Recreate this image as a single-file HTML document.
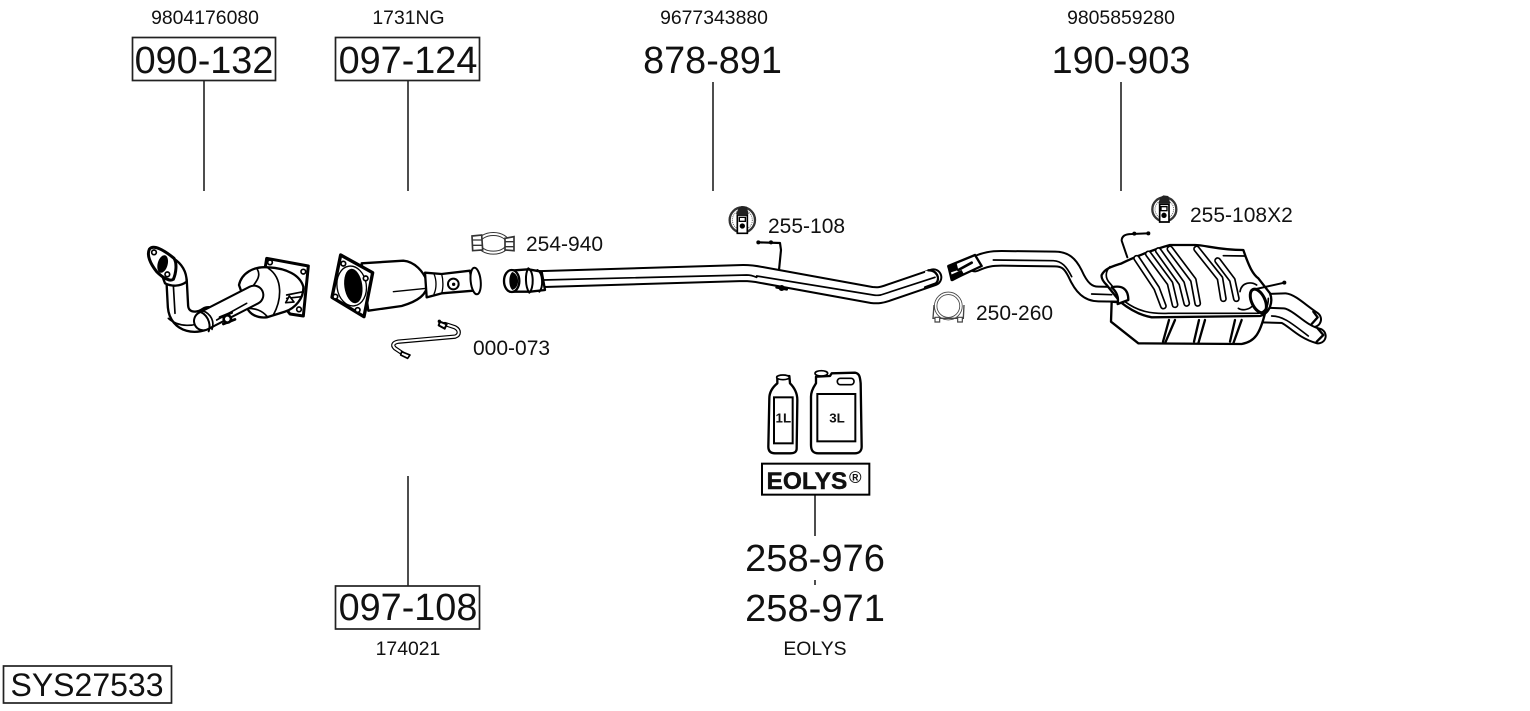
<!DOCTYPE html>
<html><head><meta charset="utf-8"><style>
html,body{margin:0;padding:0;background:#fff;overflow:hidden}
svg{display:block}
text{font-family:"Liberation Sans",sans-serif;fill:#111}
.b{font-size:37.8px;text-anchor:middle}
.c{font-size:38.1px;text-anchor:middle}
.s{font-size:19.4px;text-anchor:middle}
.m{font-size:21px}
.k{fill:none;stroke:#000;stroke-linejoin:round;stroke-linecap:round}
.w{fill:#fff;stroke:#000;stroke-linejoin:round;stroke-linecap:round}
.f{fill:none;stroke:#fff;stroke-linejoin:round;stroke-linecap:round}
.r{fill:#fff;stroke:#222;stroke-width:1.7}
.l{stroke:#222;stroke-width:1.6}
</style></head><body>
<svg width="1530" height="711" viewBox="0 0 1530 711" xmlns="http://www.w3.org/2000/svg">
<rect width="1530" height="711" fill="#fff"/>

<!-- leader lines -->
<line class="l" x1="204" y1="80" x2="204" y2="191"/>
<line class="l" x1="408" y1="80" x2="408" y2="191"/>
<line class="l" x1="713" y1="82" x2="713" y2="191"/>
<line class="l" x1="1121" y1="82" x2="1121" y2="191"/>
<line class="l" x1="408" y1="476" x2="408" y2="586"/>
<line class="l" x1="815" y1="494" x2="815" y2="536"/>
<line class="l" x1="815" y1="580" x2="815" y2="585"/>

<!-- boxes -->
<rect class="r" x="132.5" y="37.5" width="143" height="43"/>
<rect class="r" x="335.5" y="37.5" width="144" height="43"/>
<rect class="r" x="335.5" y="586" width="144" height="43"/>
<rect class="r" x="3.5" y="666" width="168" height="37"/>

<!-- labels -->
<text class="s" x="205" y="24">9804176080</text>
<text class="s" x="408.5" y="24">1731NG</text>
<text class="s" x="714" y="24">9677343880</text>
<text class="s" x="1121" y="24">9805859280</text>
<text class="b" x="204" y="73">090-132</text>
<text class="b" x="408" y="73">097-124</text>
<text class="b" x="712.5" y="73">878-891</text>
<text class="b" x="1121" y="73">190-903</text>
<text class="b" x="408" y="620">097-108</text>
<text class="c" x="815" y="571">258-976</text>
<text class="c" x="815" y="621">258-971</text>
<text class="s" x="408" y="655">174021</text>
<text class="s" x="815" y="655">EOLYS</text>
<text x="87" y="696" text-anchor="middle" style="font-size:32px">SYS27533</text>
<text class="m" x="526" y="251">254-940</text>
<text class="m" x="768" y="233">255-108</text>
<text class="m" x="1190" y="222">255-108X2</text>
<text class="m" x="976" y="320">250-260</text>
<text class="m" x="473" y="355">000-073</text>

<!-- PART 1 : zoom coords 140,240 -->
<g transform="translate(140 240) scale(.33333)">
  <path class="w" stroke-width="9" d="M380 55 L505 78 L490 228 L450 222 L370 120Z"/>
  <circle cx="390" cy="67" r="7" class="w" stroke-width="5"/>
  <circle cx="490" cy="95" r="7" class="w" stroke-width="5"/>
  <circle cx="477" cy="208" r="7" class="w" stroke-width="5"/>
  <path class="w" stroke-width="7" d="M297 135 C305 100 340 78 385 82 C440 85 480 105 490 140 C492 175 465 205 435 215 L380 232 C350 235 330 222 322 205Z"/>
  <path class="k" stroke-width="5" d="M352 88 C368 115 335 135 330 155 M385 85 C430 115 425 180 400 225 M440 165 L490 155 M440 175 L485 170 M322 205 C345 205 365 210 382 230"/>
  <path d="M437 188 L448 168 L462 186Z" class="w" stroke-width="5"/>
  <!-- vertical + lower bend -->
  <path class="k" stroke-width="68" stroke-linecap="butt" d="M110 125 L114 200 C118 248 170 256 205 232"/>
  <path class="f" stroke-width="54" stroke-linecap="butt" d="M110 125 L114 200 C118 248 170 256 205 232"/>
  <path class="k" stroke-width="5" d="M100 135 L105 220 M85 235 C115 262 165 262 195 240"/>
  <!-- pipe to cat -->
  <path class="k" stroke-width="62" stroke-linecap="butt" d="M190 243 L342 165"/>
  <path class="f" stroke-width="50" stroke-linecap="butt" d="M190 243 L342 165"/>
  <path class="k" stroke-width="5" d="M230 240 L320 190"/>
  <!-- clamp arcs only -->
  <path class="k" stroke-width="6" d="M174 214 C200 218 215 250 206 274"/>
  <path class="k" stroke-width="5" d="M188 212 C214 222 224 245 216 268"/>
  <!-- upper bend -->
  <path class="w" stroke-width="7" d="M100 55 C125 70 140 95 140 125 C120 140 95 140 75 130 L60 90Z"/>
  <!-- flange -->
  <path class="w" stroke-width="9" d="M28 28 C40 12 72 30 102 55 C112 70 108 100 100 118 C90 125 70 115 50 95 C30 70 20 45 28 28Z"/>
  <ellipse cx="68" cy="72" rx="15" ry="27" fill="#000" transform="rotate(15 68 72)"/>
  <circle cx="42" cy="37" r="7" class="w" stroke-width="5"/>
  <circle cx="82" cy="103" r="7" class="w" stroke-width="5"/>
  <!-- bolt -->
  <path class="k" stroke-width="8" d="M240 232 L275 218 M250 252 L285 238"/>
  <circle cx="262" cy="237" r="11" class="w" stroke-width="8"/>
</g>

<!-- PART 2 : zoom coords 130,220 -->
<g transform="translate(130 220) scale(.33333)">
  <path class="w" stroke-width="7" d="M695 130 L820 122 C855 125 880 155 892 185 C895 225 860 245 815 258 L715 272Z"/>
  <path class="k" stroke-width="4" d="M790 215 L890 205"/>
  <path class="w" stroke-width="7" d="M885 158 L935 162 L1020 152 L1030 212 L935 220 L890 232Z"/>
  <path class="k" stroke-width="4" d="M912 162 C920 180 920 205 912 222 M935 162 C940 180 940 205 935 220"/>
  <ellipse cx="1037" cy="183" rx="15" ry="40" class="w" stroke-width="6" transform="rotate(-6 1037 183)"/>
  <circle cx="970" cy="192" r="16" class="w" stroke-width="6"/>
  <circle cx="971" cy="193" r="5" fill="#000"/>
  <path class="w" stroke-width="10" d="M632 105 L728 158 L702 290 L606 232Z"/>
  <ellipse cx="665" cy="198" rx="44" ry="60" fill="#fff" stroke="#000" stroke-width="4" transform="rotate(-8 665 198)"/>
  <ellipse cx="670" cy="198" rx="27" ry="52" fill="#000" transform="rotate(-8 670 198)"/>
  <circle cx="640" cy="131" r="7" class="w" stroke-width="5"/>
  <circle cx="707" cy="175" r="7" class="w" stroke-width="5"/>
  <circle cx="616" cy="230" r="7" class="w" stroke-width="5"/>
  <circle cx="683" cy="270" r="7" class="w" stroke-width="5"/>
  <!-- sensor 000-073 -->
  <path class="k" stroke-width="13" d="M825 405 L795 385 C785 375 790 368 805 365 L975 350 C990 345 990 330 975 322 L945 312"/>
  <path class="f" stroke-width="6" d="M825 405 L795 385 C785 375 790 368 805 365 L975 350 C990 345 990 330 975 322 L945 312"/>
  <path class="w" stroke-width="5" d="M815 395 L840 405 L833 415 L812 405Z"/>
  <path class="w" stroke-width="6" d="M930 305 L950 313 L944 326 L926 316Z"/>
  <circle cx="928" cy="304" r="5" fill="#000"/>
</g>

<!-- PART 3 : zoom coords 460,200 -->
<g transform="translate(460 200) scale(.33333)">
  <!-- clamp 254-940 -->
  <ellipse cx="100" cy="130" rx="44" ry="28" fill="none" stroke="#333" stroke-width="12"/>
  <ellipse cx="100" cy="130" rx="44" ry="28" fill="none" stroke="#fff" stroke-width="6"/>
  <path d="M36 108 L65 105 L68 150 L38 152Z M135 115 L162 110 L162 152 L135 150Z" fill="#fff" stroke="#333" stroke-width="5"/>
  <path d="M36 120 H66 M36 136 H66 M135 125 H162 M135 140 H162" stroke="#333" stroke-width="4"/>
  <!-- hanger strap -->
  <path class="k" stroke-width="6.5" d="M893 127 L960 129 L963 150 L957 210"/>
  <circle cx="895" cy="127" r="6" fill="#000"/><circle cx="933" cy="127" r="6" fill="#000"/>
  <!-- pipe -->
  <path class="k" stroke-width="54" stroke-linecap="butt" d="M190 239 L850 219 C870 219 885 221 905 225 L1235 285 C1255 287 1265 285 1280 280 L1420 232"/>
  <path class="f" stroke-width="42" stroke-linecap="butt" d="M190 239 L850 219 C870 219 885 221 905 225 L1235 285 C1255 287 1265 285 1280 280 L1420 232"/>
  <path style="stroke:none;fill:#fff" d="M1408 210 C1432 210 1443 235 1430 250 L1400 262 L1395 214Z"/>
  <path class="k" stroke-width="7" d="M1405 211 C1430 210 1442 235 1428 250 L1395 262"/>
  <path class="k" stroke-width="5" d="M250 240 L860 225 C875 225 885 230 890 232 M890 228 L1240 285 C1250 287 1262 285 1262 285 M1262 285 L1425 232"/>
  <path class="k" stroke-width="8" d="M950 262 L980 268"/>
  <circle cx="965" cy="264" r="9" fill="#000"/>
  <!-- socket -->
  <path class="w" stroke-width="7" d="M150 212 L205 208 L245 215 L255 270 L210 275 L150 275Z"/>
  <ellipse cx="155" cy="243" rx="23" ry="33" class="w" stroke-width="7"/>
  <path d="M157 216 C180 225 180 262 157 270 C145 260 145 225 157 216Z" fill="#000"/>
  <path class="k" stroke-width="6" d="M205 205 C222 215 222 265 208 278 M232 210 C250 220 250 262 238 275 M205 205 C195 220 195 260 208 278"/>
  <!-- rubber hanger -->
  <circle cx="847" cy="60" r="38" fill="#fff" stroke="#333" stroke-width="7"/>
  <circle cx="847" cy="60" r="30" fill="none" stroke="#666" stroke-width="3" stroke-dasharray="3 3"/>
  <path d="M828 42 L866 42 L860 20 L845 18 L836 24Z" fill="#222"/>
  <path d="M832 45 h30 v55 h-30Z" fill="#fff" stroke="#000" stroke-width="5"/>
  <circle cx="847" cy="78" r="8" fill="#000"/>
  <rect x="838" y="52" width="18" height="12" fill="#fff" stroke="#000" stroke-width="4"/>
</g>

<!-- Rear pipe + clamps : zoom coords 925,190 -->
<g transform="translate(925 190) scale(.33333)">
  <!-- clamp 250-260 -->
  <circle cx="70" cy="348" r="38" fill="none" stroke="#444" stroke-width="10"/>
  <circle cx="70" cy="348" r="38" fill="none" stroke="#fff" stroke-width="5"/>
  <path d="M27 345 L24 385 L115 385 L117 345" fill="none" stroke="#444" stroke-width="4"/>
  <path d="M30 382 h14 v14 h-14Z M98 382 h14 v14 h-14Z" fill="#fff" stroke="#444" stroke-width="3.5"/>
  <!-- inlet pipe -->
  <path class="k" stroke-width="50" stroke-linecap="butt" d="M150 222 C180 208 200 205 230 205 L390 207 C420 207 435 220 450 250 C470 295 490 312 520 312 L575 313"/>
  <path class="f" stroke-width="38" stroke-linecap="butt" d="M150 222 C180 208 200 205 230 205 L390 207 C420 207 435 220 450 250 C470 295 490 312 520 312 L575 313"/>
  <path class="k" stroke-width="5" d="M205 210 L385 212 C410 213 425 230 440 260 M500 312 L560 314"/>
  <!-- split end -->
  <path class="w" stroke-width="7" d="M70 228 L150 195 L170 228 L80 270Z"/>
  <path d="M66 230 L95 220 L100 240 L75 248Z M76 255 L110 240 L118 255 L82 274Z" fill="#000"/>
  <path class="k" stroke-width="8" d="M100 240 L140 218"/>
  <!-- rubber -->
  <circle cx="718" cy="58" r="36" fill="#fff" stroke="#333" stroke-width="7"/>
  <circle cx="718" cy="58" r="28" fill="none" stroke="#666" stroke-width="3" stroke-dasharray="3 3"/>
  <path d="M700 40 L736 40 L730 18 L715 16 L706 22Z" fill="#222"/>
  <path d="M704 43 h28 v53 h-28Z" fill="#fff" stroke="#000" stroke-width="5"/>
  <circle cx="717" cy="76" r="8" fill="#000"/>
  <rect x="708" y="50" width="18" height="12" fill="#fff" stroke="#000" stroke-width="4"/>
</g>

<!-- MUFFLER : zoom coords 1095,230 -->
<g transform="translate(1095 230) scale(.33333)">
  <!-- tail pipes -->
  <path class="k" stroke-width="52" stroke-linecap="butt" d="M510 215 L570 213 C590 215 620 245 655 268"/>
  <path class="f" stroke-width="40" stroke-linecap="butt" d="M510 215 L570 213 C590 215 620 245 655 268"/>
  <path class="k" stroke-width="7" d="M655 245 L668 262 L650 282"/>
  <path class="k" stroke-width="50" stroke-linecap="butt" d="M500 255 L565 257 C590 265 620 305 670 318"/>
  <path class="f" stroke-width="38" stroke-linecap="butt" d="M500 255 L565 257 C590 265 620 305 670 318"/>
  <path class="k" stroke-width="7" d="M668 295 L685 315 L665 335"/>
  <path class="k" stroke-width="5" d="M530 258 C565 258 590 280 640 318"/>
  <!-- lower shell -->
  <path class="w" stroke-width="7" d="M50 215 L48 275 L130 340 L440 342 C480 335 495 310 510 250Z"/>
  <path class="k" stroke-width="7" d="M240 270 L210 340 M222 270 L204 335 M330 270 L310 340 M312 270 L297 335 M440 270 L415 340 M420 270 L405 335"/>
  <!-- upper shell -->
  <path class="w" stroke-width="7" d="M20 135 C30 115 50 110 80 100 C110 85 170 60 225 45 L300 45 C330 45 370 60 445 60 L452 80 C460 100 470 130 490 145 L525 190 C535 215 525 250 495 258 L170 262 C130 255 100 235 75 215 L35 165 C25 155 18 145 20 135Z"/>
  <path class="k" stroke-width="5" d="M45 110 C30 125 30 145 45 160 L90 215 C130 245 170 252 220 250 L490 250 C515 245 520 225 520 205 M385 77 L450 78"/>
  <!-- ribs -->
  <path class="k" stroke-width="21" d="M125 85 L185 175 L205 228"/>
  <path class="f" stroke-width="11" d="M125 85 L185 175 L205 228"/>
  <path class="k" stroke-width="21" d="M160 72 L225 160 L240 224"/>
  <path class="f" stroke-width="11" d="M160 72 L225 160 L240 224"/>
  <path class="k" stroke-width="21" d="M190 62 L260 160 L275 220"/>
  <path class="f" stroke-width="11" d="M190 62 L260 160 L275 220"/>
  <path class="k" stroke-width="21" d="M225 57 L295 150 L308 220"/>
  <path class="f" stroke-width="11" d="M225 57 L295 150 L308 220"/>
  <path class="k" stroke-width="21" d="M305 57 L375 145 L385 206"/>
  <path class="f" stroke-width="11" d="M305 57 L375 145 L385 206"/>
  <path class="k" stroke-width="21" d="M368 92 L412 150 L424 206"/>
  <path class="f" stroke-width="11" d="M368 92 L412 150 L424 206"/>
  <!-- strap -->
  <path class="k" stroke-width="6" d="M97 82 L80 32 C80 15 95 12 110 12 L160 10"/>
  <circle cx="160" cy="10" r="6" fill="#000"/><circle cx="118" cy="11" r="6" fill="#000"/>
  <!-- tail loop -->
  <path class="k" stroke-width="5" d="M435 185 C440 155 470 155 485 165 M430 235 C445 245 465 235 470 230"/>
  <ellipse cx="490" cy="213" rx="20" ry="38" fill="none" stroke="#000" stroke-width="9" transform="rotate(-25 490 213)"/>
  <path class="k" stroke-width="6" d="M470 180 L568 158"/>
  <circle cx="568" cy="158" r="6" fill="#000"/>
  <!-- collar -->
  <path class="w" stroke-width="7" d="M50 172 C80 165 100 175 100 210 L68 222 C72 200 65 185 50 172Z"/>
</g>

<!-- EOLYS : zoom coords 750,360 -->
<g transform="translate(750 360) scale(.33333)">
  <path class="w" stroke-width="7" d="M82 50 L118 48 L120 70 C135 85 142 100 142 120 L140 265 C140 278 130 280 120 280 L75 280 C60 280 55 272 55 260 L58 115 C58 95 70 80 82 70Z"/>
  <ellipse cx="99" cy="52" rx="19" ry="7" class="w" stroke-width="5"/>
  <rect x="72" y="112" width="56" height="138" fill="#fff" stroke="#000" stroke-width="6"/>
  <text x="100" y="188" text-anchor="middle" style="font-size:40px;font-weight:bold">1L</text>
  <path class="w" stroke-width="7" d="M198 50 L240 48 L245 40 L315 38 C328 40 330 50 332 70 L335 260 C335 275 325 280 315 280 L205 280 C190 280 183 272 183 255 L183 110 C183 90 195 75 198 70Z"/>
  <ellipse cx="214" cy="40" rx="19" ry="8" class="w" stroke-width="5"/>
  <rect x="262" y="55" width="50" height="19" rx="9" fill="#fff" stroke="#000" stroke-width="5"/>
  <rect x="202" y="102" width="114" height="142" fill="#fff" stroke="#000" stroke-width="6"/>
  <text x="261" y="188" text-anchor="middle" style="font-size:40px;font-weight:bold">3L</text>
  <rect x="36" y="311" width="322" height="93" fill="#fff" stroke="#000" stroke-width="6"/>
</g>
<text x="766.5" y="489" style="font-size:24.5px;font-weight:bold;stroke:#111;stroke-width:.4">EOLYS</text>
<text x="849" y="483" style="font-size:17px;font-weight:bold">®</text>
</svg>
</body></html>
